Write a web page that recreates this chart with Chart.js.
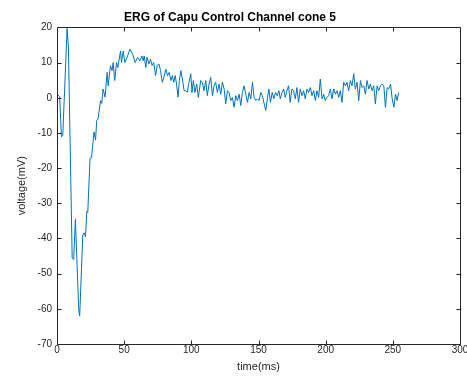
<!DOCTYPE html>
<html>
<head>
<meta charset="utf-8">
<script src="https://cdn.jsdelivr.net/npm/chart.js@4/dist/chart.umd.min.js"></script>
<style>
html,body{margin:0;padding:0;background:#fff;}
canvas{display:block;}
</style>
</head>
<body>
<canvas id="c" width="467" height="382"></canvas>
<script>
const chartTitle = "ERG of Capu Control Channel cone 5";
const xAxisLabel = "time(ms)";
const yAxisLabel = "voltage(mV)";
const xTicks = [0, 50, 100, 150, 200, 250, 300];
const yTicks = [-70, -60, -50, -40, -30, -20, -10, 0, 10, 20];

const timeMs = [
  0, 2, 3.3, 4.3, 7.5, 8.5, 11.3, 12.4, 13.7, 16.2, 16.9, 19.2, 20.2, 21.2, 22.2, 22.9,
  24.6, 25.7, 27.1, 27.6, 28.7, 29.6, 30.6, 32.4, 33.3, 34.3, 35.8, 37.3, 38.1, 39.8,
  41, 41.8, 43, 44.3, 45.3, 47.3, 48, 49.3, 50.5, 52.2, 54.3, 56.3, 58.2, 60, 61.7,
  63.2, 64.2, 64.9, 66.1, 67, 68.4, 69.6, 70.8, 72, 73.4, 74.6, 75.9, 77.1, 78.4,
  79.6, 81, 82.3, 83.5, 84.8, 85.9, 86.9, 88, 89, 90.1, 91.1, 92.2, 93.4, 94.6, 95.8,
  97, 98.3, 99.6, 100.5, 101.5, 102.7, 104, 105.2, 107, 108.2, 109.4, 110.7, 111.9,
  113.2, 114.4, 115.7, 116.9, 118.1, 119.4, 120.6, 121.9, 123.1, 124.4, 125.6, 126.9,
  128.1, 129.3, 130.6, 131.8, 133.1, 134.3, 135.6, 136.8, 138, 139.3, 140.5, 141.8,
  143, 144.3, 145.5, 146.7, 148, 149.2, 150.4, 151.7, 152.9, 154.2, 155.4, 156.6,
  157.7, 158.9, 160.2, 161.4, 162.7, 163.9, 165.2, 166.2, 167.5, 168.7, 169.9, 171.2,
  172.4, 173.6, 174.9, 176.1, 177.4, 178.6, 179.8, 181.1, 182.3, 183.6, 184.8, 186.1,
  187.3, 188.6, 189.8, 191.1, 192.3, 193.5, 194.8, 196, 197.3, 198.5, 199.7, 201,
  202.2, 203.5, 204.7, 206, 207.2, 208.5, 209.7, 210.9, 212.2, 213.4, 214.7, 215.9,
  217.1, 218.4, 219.6, 220.9, 222.1, 223.4, 224.6, 225.9, 227.1, 228.4, 229.6, 230.8,
  232.1, 233.3, 234.6, 235.8, 237, 238.3, 239.5, 240.8, 242, 243.3, 244.5, 245.8,
  247, 248.3, 249.5, 250.8, 252, 253.2, 254.3
];

const voltage = [
  1.0, 0.3, -11.1, -10.7, 19.7, 14.4, -45.5, -46, -34.6, -60.5, -62, -39, -38.4, -39.5, -32.3, -32.6,
  -17.2, -17, -11.5, -9.7, -12, -6.4, -6, -0.8, -1.6, 2.5, 0.2, 7.2, 3.4, 9.1,
  7.7, 10, 4.9, 10, 8.6, 13.3, 10, 13.3, 10, 11.5, 13.8, 12.4, 10, 11.5, 10.5,
  11.9, 10.5, 11.9, 8.6, 11.5, 9.6, 11, 9.2, 10, 6.3, 9.2, 9.6, 7.7, 4.4,
  5.8, 8.1, 6.3, 7.2, 4.9, 6.3, 4.4, 6.3, 3.9, 0.2, 4.9, 7.7, 5.3, 2, 2,
  1.6, 4.4, 6.8, 1.5, 4.9, 1.5, 3.9, 0.1, 4.9, 4.4, 2, 4.9, 0.6,
  3.9, 5.8, 0.6, 3.4, 4.4, 1.5, 3.9, 1, 4.4, 2.5, -1.7, 2,
  1.5, -0.8, 0.1, -2.7, 0.6, -0.8, 1, -2.2, 1.5, 3.4, 1, -1.3,
  1.5, -0.3, 4.4, 0.1, -0.8, -0.3, -0.8, 1.5, 0.6, -1.7, -3.6, -0.3,
  2.5, -1.3, 1.5, -0.3, 1.5, 0.6, 2, -0.3, 1.5, 2.5, 0.1, 2,
  3.4, -1.3, 2.5, 2, -0.3, 2.9, -1.3, 2.5, 0.6, 2, -0.3, 2.5,
  1.5, 2.9, 0.6, 2, -0.8, 2, 0.1, 5.3, -0.3, 1, -0.8, 0.1,
  0.6, 2.5, -0.3, 2.5, 1, 2, 0.1, 2, -1.3, 4.4, 3.4, 4.4,
  2, 4.9, 3.4, 6.8, 2.5, 4.4, -0.8, 4.9, 2.9, 3.4, 1, 4.9,
  2.5, 3.9, 2, 3.4, -1.7, 3.4, 2, 3.4, 3.9, 3.4, -2.7, 2.9,
  2.5, 3.9, -0.3, -2.7, 1, -0.8, 1.5
];

const axisColor = '#262626';
const fontFamily = '"Liberation Sans", Arial, Helvetica, sans-serif';

const boxTicksPlugin = {
  id: 'boxTicks',
  afterDraw(chart) {
    const {ctx, chartArea: a, scales: {x, y}} = chart;
    const L = Math.round(a.left) + 0.5, R = Math.round(a.right) + 0.5;
    const T = Math.round(a.top) + 0.5, B = Math.round(a.bottom) + 0.5;
    const len = 4;
    ctx.save();
    ctx.strokeStyle = axisColor;
    ctx.lineWidth = 1;
    ctx.beginPath();
    ctx.rect(L, T, R - L, B - T);
    xTicks.forEach(v => {
      const px = Math.round(x.getPixelForValue(v)) + 0.5;
      ctx.moveTo(px, B); ctx.lineTo(px, B - len);
      ctx.moveTo(px, T); ctx.lineTo(px, T + len);
    });
    yTicks.forEach(v => {
      const py = Math.round(y.getPixelForValue(v)) + 0.5;
      ctx.moveTo(L, py); ctx.lineTo(L + len, py);
      ctx.moveTo(R, py); ctx.lineTo(R - len, py);
    });
    ctx.stroke();
    ctx.restore();
  }
};

new Chart(document.getElementById('c'), {
  type: 'line',
  data: {
    datasets: [{
      data: timeMs.map((t, i) => ({x: t, y: voltage[i]})),
      borderColor: '#0072BD',
      borderWidth: 1,
      pointRadius: 0,
      tension: 0,
      fill: false
    }]
  },
  options: {
    responsive: false,
    animation: false,
    devicePixelRatio: 1,
    layout: {padding: {left: 0, right: 7, top: 0, bottom: 0}},
    plugins: {
      legend: {display: false},
      tooltip: {enabled: false},
      title: {
        display: true,
        text: chartTitle,
        color: '#000',
        font: {family: fontFamily, size: 12, weight: 'bold'},
        padding: {top: 10, bottom: 3}
      }
    },
    scales: {
      x: {
        type: 'linear',
        min: 0, max: 300,
        afterBuildTicks: s => { s.ticks = xTicks.map(v => ({value: v})); },
        afterFit: s => { s.height = 38; s.paddingLeft = 0; s.paddingRight = 0; },
        grid: {display: false, drawTicks: false},
        border: {display: false},
        ticks: {color: axisColor, font: {family: fontFamily, size: 10}, padding: 0, maxRotation: 0, autoSkip: false},
        title: {display: true, text: xAxisLabel, color: axisColor, font: {family: fontFamily, size: 11}, padding: {top: 0, bottom: 8}}
      },
      y: {
        type: 'linear',
        min: -70, max: 20,
        afterBuildTicks: s => { s.ticks = yTicks.map(v => ({value: v})); },
        afterFit: s => { s.width = 57; },
        grid: {display: false, drawTicks: false},
        border: {display: false},
        ticks: {color: axisColor, font: {family: fontFamily, size: 10}, padding: 5, autoSkip: false},
        title: {display: true, text: yAxisLabel, color: axisColor, font: {family: fontFamily, size: 11}, padding: {top: 15, bottom: 0}}
      }
    }
  },
  plugins: [boxTicksPlugin]
});
</script>
</body>
</html>
